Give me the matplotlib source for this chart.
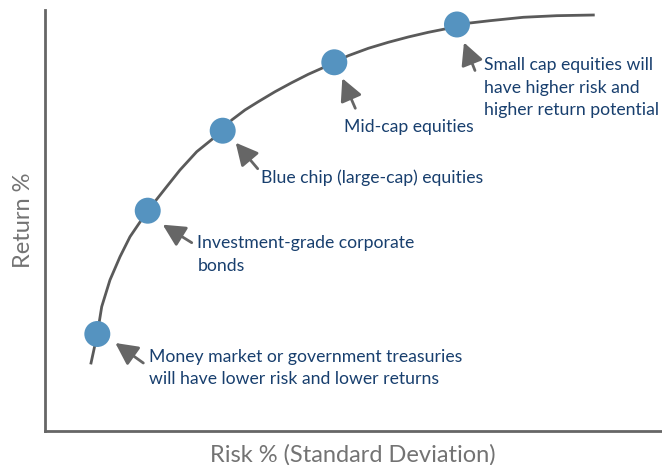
import matplotlib
matplotlib.use('Agg')
import matplotlib.pyplot as plt
from matplotlib.transforms import offset_copy

plt.rcParams['font.family'] = ['Lato', 'DejaVu Sans']

# efficient frontier curve (arbitrary 0-100 units)
curve_risk = [7.46, 8.48, 9.19, 10.53, 12.16, 13.78, 16.65, 19.72, 21.88, 24.59, 28.80,
              30.26, 32.41, 34.57, 37.28, 39.98, 42.67, 44.85, 46.89, 49.16, 52.40,
              55.64, 58.88, 62.12, 64.83, 66.77, 72.12, 77.52, 82.93, 88.87]
curve_ret = [16.15, 23.04, 29.52, 35.87, 41.40, 46.15, 52.33, 58.03, 62.00, 66.34, 71.33,
             73.87, 76.25, 78.22, 80.59, 82.73, 84.73, 86.15, 87.58, 89.15, 90.90,
             92.33, 93.59, 94.70, 95.49, 96.56, 97.46, 98.27, 98.65, 98.81]

# asset classes on the curve
asset_risk = [8.48, 16.65, 28.80, 46.89, 66.77]
asset_ret = [23.04, 52.33, 71.33, 87.58, 96.56]
asset_labels = [
    'Money market or government treasuries\nwill have lower risk and lower returns',
    'Investment-grade corporate\nbonds',
    'Blue chip (large-cap) equities',
    'Mid-cap equities',
    'Small cap equities will\nhave higher risk and\nhigher return potential',
]

# pixel offsets from each marker: arrow tip, arrow tail, first-line baseline
tips = [(18, -9), (15, -14), (13, -12), (8, -16), (7, -18)]
tails = [(46, -29), (44, -32), (35, -38), (21, -46), (18, -46)]
txt_off = [(52, -27.7), (49.6, -37.6), (38.3, -52), (10, -69.4), (27, -45.5)]
line_pitch = 22.7

fig = plt.figure(figsize=(6.62, 4.65), dpi=100)
ax = fig.add_axes([45/662, 34/465, 617/662, 421/465])
ax.set_xlim(0, 100)
ax.set_ylim(0, 100)

ax.plot(curve_risk, curve_ret, color='#5a5a5a', lw=2, zorder=2, solid_joinstyle='round')
ax.scatter(asset_risk, asset_ret, s=350, color='#5593c0', edgecolors='none', zorder=3)

for i in range(len(asset_labels)):
    p = (asset_risk[i], asset_ret[i])
    t_tip = offset_copy(ax.transData, fig=fig, x=tips[i][0], y=tips[i][1], units='dots')
    t_tail = offset_copy(ax.transData, fig=fig, x=tails[i][0], y=tails[i][1], units='dots')
    ax.annotate('', xy=p, xycoords=t_tip, xytext=p, textcoords=t_tail,
                arrowprops=dict(arrowstyle='-|>,head_length=0.75,head_width=0.38',
                                color='#666666', lw=2, mutation_scale=18,
                                shrinkA=0, shrinkB=0))
    # va='baseline' sits on the last line, so push down by the extra lines
    n_extra = asset_labels[i].count('\n')
    off = (txt_off[i][0], txt_off[i][1] - n_extra * line_pitch)
    ax.annotate(asset_labels[i], xy=p, xytext=off, textcoords='offset pixels',
                ha='left', va='baseline', fontsize=12.7, color='#183f6e',
                linespacing=1.5)

ax.spines['top'].set_visible(False)
ax.spines['right'].set_visible(False)
ax.spines['left'].set_color('#666666')
ax.spines['bottom'].set_color('#666666')
ax.spines['left'].set_linewidth(2)
ax.spines['bottom'].set_linewidth(2)
ax.set_xticks([])
ax.set_yticks([])

fig.text(353/662, 1 - 462/465, 'Risk % (Standard Deviation)', fontsize=17, color='#737373',
         ha='center', va='baseline')
fig.text(24/662, 1 - 220/465, 'Return %', fontsize=17, color='#737373',
         ha='center', va='center', rotation=90)

fig.savefig('out.png', dpi=100)
